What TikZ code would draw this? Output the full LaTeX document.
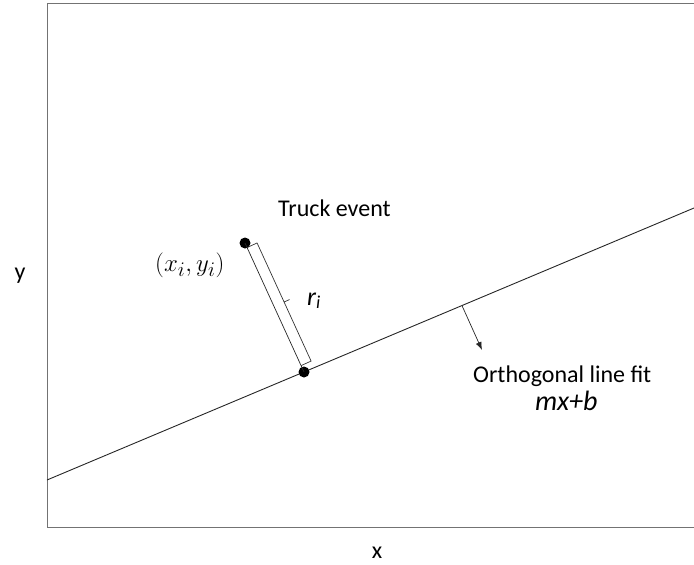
\documentclass[tikz,border=0pt]{standalone}
\usepackage{fontspec}
\setmainfont{Carlito}
\usetikzlibrary{calc,arrows.meta}
\begin{document}
\begin{tikzpicture}[x=1pt,y=-1pt,
  frame/.style={draw=black!55,line width=0.9pt},
  fitline/.style={draw=black!85,line width=0.9pt},
  brace/.style={draw=black!80,line width=0.7pt},
  pt/.style={circle,fill=black,inner sep=0pt,minimum size=11pt},
  lbl/.style={inner sep=0pt,anchor=base west,font=\fontsize{24}{28}\selectfont},
  arr/.style={draw=black!85,line width=0.7pt,-{Latex[length=8pt,width=6pt]}}]
\useasboundingbox (0,0) rectangle (694,565);
% frame
\coordinate (ftr) at (694,3);
\coordinate (ftl) at (47,3);
\coordinate (fbl) at (47,527);
\coordinate (fbr) at (694,527);
\draw[frame] (ftr) -- (ftl) -- (fbl) -- (fbr);
% fit line
\coordinate (la) at (47,480);
\coordinate (lb) at (694,208);
\draw[fitline] (la) -- (lb);
% points
\node[pt] (p1) at (245,243) {};
\node[pt] (p2) at (304,372) {};
\draw[fitline,line width=0.7pt] (p1.center) -- (p2.center);
% bracket
\coordinate (ba) at ($(p1.center)!5pt!(p2.center)$);
\coordinate (bb) at ($(p2.center)!7pt!(p1.center)$);
\coordinate (ba2) at ($(ba)!11pt!90:(bb)$);
\coordinate (bb2) at ($(bb)!11pt!-90:(ba)$);
\coordinate (bm) at ($(ba2)!0.5!(bb2)$);
\coordinate (bt) at ($(bm)!6pt!90:(bb2)$);
\draw[brace] (ba) -- (ba2) -- (bm) -- (bt) (bm) -- (bb2) -- (bb);
% arrow
\coordinate (as) at (462,305.6);
\coordinate (ae) at (482,350);
\draw[arr] (as) -- (ae);
% labels
\node[lbl] (truck) at (278,216) {Truck event};
\node[lbl] (orth) at (473,382) {Orthogonal line fit};
\node[lbl,font=\fontsize{28}{32}\selectfont\itshape] (mxb) at (535,410) {mx+b};
\node[lbl,font=\fontsize{30}{34}\selectfont] (xy) at (155,271) {$(x_i,y_i)$};
\node[lbl,font=\fontsize{26}{30}\selectfont\itshape] (ri) at (307,305) {r\textsubscript{i}};
\node[inner sep=0pt,font=\fontsize{24}{28}\selectfont] (ylab) at (20,276) {y};
\node[inner sep=0pt,font=\fontsize{24}{28}\selectfont] (xlab) at (377,553) {x};
\end{tikzpicture}
\end{document}
